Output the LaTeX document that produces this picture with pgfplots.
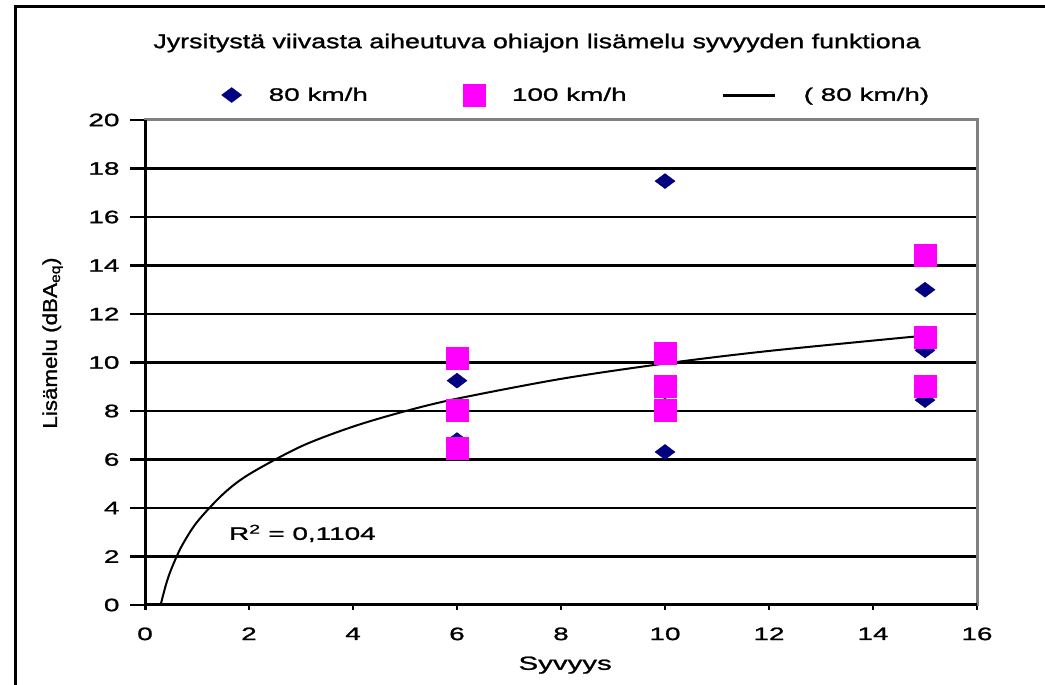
\documentclass[border=0pt]{standalone}
\usepackage{fontspec}
\setmainfont{Liberation Sans}[FakeStretch=1.55, FakeBold=1.2]
\newfontfamily\titlefont{Liberation Sans}[FakeStretch=1.34, FakeBold=1.2]
\newfontfamily\plainfont{Liberation Sans}[FakeStretch=1.12, FakeBold=1.2]
\usepackage{pgfplots}
\pgfplotsset{compat=1.18}
\definecolor{navyc}{RGB}{0,0,128}
\definecolor{magc}{RGB}{255,0,255}
\definecolor{bordgray}{RGB}{128,128,128}
\pgfplotsset{
  markleg/.style={legend image code/.code={\draw[mark repeat=2,mark phase=2,##1] plot coordinates {(0pt,0pt) (15pt,0pt) (30pt,0pt)};}},
  lineleg/.style={legend image code/.code={\draw[##1,line width=3pt] (0pt,0pt) -- (52pt,0pt);}},
}
\begin{document}
\begin{tikzpicture}
\useasboundingbox (0,0) rectangle (1045pt,685pt);
\draw[line width=3pt] (15.5pt,0pt) -- (15.5pt,678pt) -- (1045pt,678pt);
\node[font=\titlefont\fontsize{20}{24}\selectfont] at (537pt,642pt) {Jyrsitystä viivasta aiheutuva ohiajon lisämelu syvyyden funktiona};
\begin{axis}[
  at={(145pt,80pt)}, anchor=south west,
  scale only axis, width=832pt, height=485pt,
  xmin=0, xmax=16, ymin=0, ymax=20,
  xtick={0,2,...,16}, ytick={0,2,...,20},
  ymajorgrids, major grid style={black, line width=2.5pt},
  axis line style={draw=bordgray, line width=3pt},
  tick align=outside, tick style={black, line width=2.5pt},
  major tick length=15pt,
  xtick style={/pgfplots/major tick length=5pt},
  xtick pos=bottom, ytick pos=left,
  /pgf/number format/assume math mode=true,
  ticklabel style={font=\fontsize{18}{20}\selectfont},
  xticklabel style={yshift=-4pt},
  yticklabel style={xshift=-7pt},
  xlabel={Syvyys},
  ylabel={Lisämelu (dBA\textsubscript{eq})},
  xlabel style={font=\fontsize{19}{22}\selectfont, at={(axis description cs:0.505,-0.124)}, anchor=center},
  ylabel style={font=\plainfont\fontsize{20}{22}\selectfont, at={(axis description cs:-0.111,0.54)}, anchor=center},
  legend columns=3,
  legend style={draw=none, fill=none, at={(axis description cs:0.5186,1.0515)}, anchor=center,
    font=\fontsize{18}{20}\selectfont,
    /tikz/every odd column/.append style={column sep=25pt},
    /tikz/every even column/.append style={column sep=93pt}},
  clip=false,
]
\addplot[only marks, mark=diamond*, mark size=10pt, mark options={rotate=90, draw=navyc, fill=navyc}, draw=navyc, markleg]
  coordinates {(6,9.25) (6,6.8) (10,17.48) (10,6.31) (10,8.8) (15,13.0) (15,10.5) (15,8.45)};
\addlegendentry{80 km/h}
\addplot[only marks, mark=square*, mark size=11pt, mark options={draw=magc, fill=magc}, draw=magc, markleg]
  coordinates {(6,10.18) (6,8.04) (6,6.47) (10,10.39) (10,9.03) (10,8.04) (15,14.43) (15,11.05) (15,9.03)};
\addlegendentry{100 km/h}
\addplot[black, line width=2pt, smooth, mark=none, lineleg]
  coordinates {(0.3,0) (0.4,0.817) (0.5,1.451) (0.7,2.406) (1,3.419) (1.5,4.571) (2,5.388) (3,6.539) (4,7.356) (5,7.990) (6,8.508) (8,9.325) (10,9.958) (12,10.476) (15,11.110)};
\addlegendentry{( 80 km/h)}
\draw[black, line width=3pt] (rel axis cs:0,1) -- (rel axis cs:0,-0.01);
\draw[black, line width=3pt] (rel axis cs:0,0) -- (rel axis cs:1,0);
\node[anchor=west, font=\fontsize{18}{20}\selectfont] at (axis cs:1.55,2.95) {R\textsuperscript{2} = 0,1104};
\end{axis}
\end{tikzpicture}
\end{document}
